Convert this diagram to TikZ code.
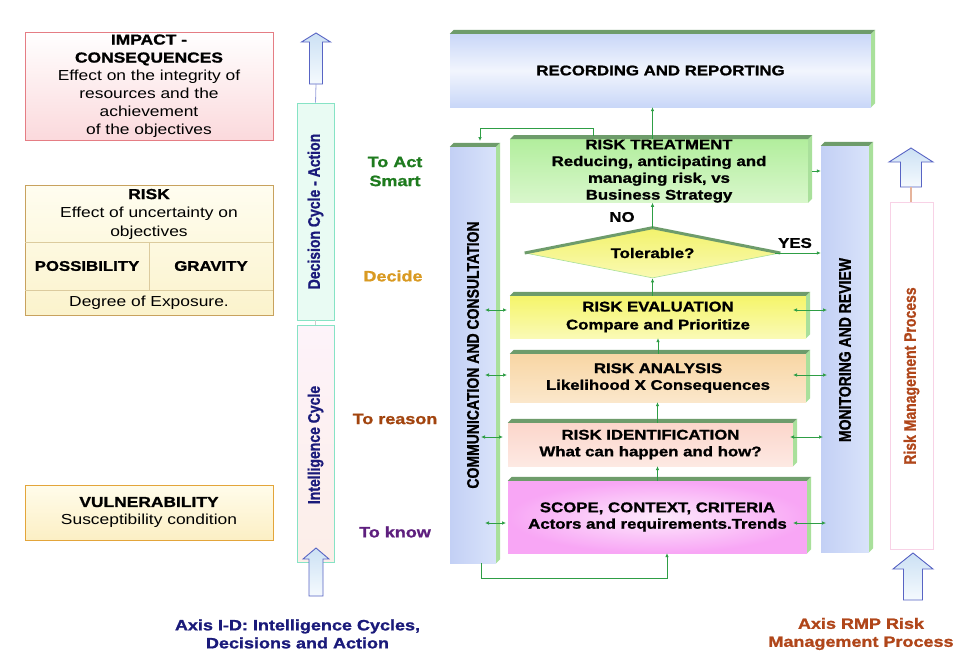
\documentclass[tikz,border=0pt]{standalone}
\usepackage{fontspec}
\setmainfont{Liberation Sans}[FakeStretch=1.2, BoldFeatures={FakeBold=1.2}]
\newfontfamily\plainsans{Liberation Sans}[BoldFeatures={FakeBold=1.2}]
\usetikzlibrary{arrows.meta,shapes.geometric}
\definecolor{impf}{HTML}{FBD9DC}
\definecolor{impb}{HTML}{E57D84}
\definecolor{riskT}{HTML}{FFFDF0}
\definecolor{riskB}{HTML}{FBF3CC}
\definecolor{riskb}{HTML}{C8A25E}
\definecolor{riskl}{HTML}{DCCB9E}
\definecolor{vulT}{HTML}{FFFCEB}
\definecolor{vulB}{HTML}{FCEFC4}
\definecolor{vulb}{HTML}{E3A53A}
\definecolor{decf}{HTML}{E9FBF3}
\definecolor{cycb}{HTML}{86E3C5}
\definecolor{intT}{HTML}{FDF3FA}
\definecolor{intB}{HTML}{FCEEE8}
\definecolor{arrT}{HTML}{CCE1F4}
\definecolor{arrB}{HTML}{F5FAFE}
\definecolor{arrb}{HTML}{5864C4}
\definecolor{recf}{HTML}{C9D7F8}
\definecolor{colL}{HTML}{C3D0F5}
\definecolor{colR}{HTML}{D9E3FA}
\definecolor{topface}{HTML}{6E9C6B}
\definecolor{sideface}{HTML}{A9E09B}
\definecolor{treatT}{HTML}{B2EE9D}
\definecolor{treatB}{HTML}{D9F7CC}
\definecolor{evalT}{HTML}{F5F56A}
\definecolor{evalB}{HTML}{FAFAB5}
\definecolor{anaT}{HTML}{F8D6A4}
\definecolor{anaB}{HTML}{FBE7CB}
\definecolor{idT}{HTML}{FCD6CB}
\definecolor{idB}{HTML}{FDE9E3}
\definecolor{scopeO}{HTML}{F8A6F5}
\definecolor{scopeI}{HTML}{FDEAFC}
\definecolor{diaT}{HTML}{F2F26C}
\definecolor{diaB}{HTML}{FAFAB3}
\definecolor{conng}{HTML}{2E9E45}
\definecolor{actg}{HTML}{1E7B1E}
\definecolor{decideo}{HTML}{D99A22}
\definecolor{reasonb}{HTML}{A2440E}
\definecolor{knowp}{HTML}{5E1F7E}
\definecolor{navy}{HTML}{1A1A7A}
\definecolor{rmpb}{HTML}{B0461A}
\definecolor{rmpedge}{HTML}{F8D2E6}
\definecolor{rmpline}{HTML}{E6B49C}
\newcommand\rottext[1]{\scalebox{0.833}[1]{\plainsans\fontsize{16.8}{16.8}\selectfont\bfseries #1}}
\newcommand\mkdepth[1]{%
  \fill[topface] (#1.north west) -- ++(4,-4) -- ([shift={(4,-4)}]#1.north east) -- (#1.north east) -- cycle;
  \fill[sideface] (#1.north east) -- ([shift={(4,-4)}]#1.north east) -- ([shift={(4,-4)}]#1.south east) -- (#1.south east) -- cycle;}
\newcommand\blockarrow[6]{%
  \draw[arrowst] (#1,#2) -- (#1+#5,#3) -- (#1+#6,#3) -- (#1+#6,#4) -- (#1-#6,#4) -- (#1-#6,#3) -- (#1-#5,#3) -- cycle;}
\tikzset{
  every node/.style={font=\fontsize{14.5}{17}\selectfont},
  leftbox/.style={rectangle, inner sep=0pt, align=center, minimum width=248, font=\fontsize{14.5}{18}\selectfont},
  flow/.style={rectangle, inner sep=0pt, align=center, font=\bfseries\fontsize{14}{16.8}\selectfont},
  cycbox/.style={rectangle, inner sep=0pt, draw=cycb, line width=0.8pt, minimum width=37},
  arrowst/.style={draw=arrb, line width=0.9pt, top color=arrT, bottom color=arrB, line join=miter},
  gc/.style={draw=conng, line width=0.7pt, -{Latex[length=4pt,width=3.5pt]}},
  gcc/.style={draw=conng, line width=0.7pt, {Latex[length=4pt,width=3.5pt]}-{Latex[length=4pt,width=3.5pt]}},
  lbl/.style={font=\bfseries\fontsize{15}{19}\selectfont, align=center},
}
\begin{document}
\begin{tikzpicture}[x=1pt,y=-1pt]
\useasboundingbox[fill=white] (0,0) rectangle (980,665);

% ---------- left boxes ----------
\node[leftbox, draw=impb, top color=white, bottom color=impf, minimum height=108] (impact) at (149,86)
  {\textbf{IMPACT -}\\\textbf{CONSEQUENCES}\\Effect on the integrity of\\resources and the\\achievement\\of the objectives};

\node[leftbox, draw=riskb, line width=0.8pt, top color=riskT, bottom color=riskB, minimum height=130] (risk) at (149,250) {};
\node[align=center, font=\fontsize{14.5}{18.5}\selectfont] (riskt) at (149,214) {\textbf{RISK}\\Effect of uncertainty on\\objectives};
\draw[riskl, line width=0.8pt] (25,242) -- (273,242);
\draw[riskl, line width=0.8pt] (25,290) -- (273,290);
\draw[riskl, line width=0.8pt] (149,242) -- (149,290);
\node[font=\bfseries\fontsize{14}{17}\selectfont] (poss) at (87,266) {POSSIBILITY};
\node[font=\bfseries\fontsize{14}{17}\selectfont] (grav) at (211,266) {GRAVITY};
\node (expo) at (149,303) {Degree of Exposure.};

\node[leftbox, draw=vulb, line width=0.8pt, top color=vulT, bottom color=vulB, minimum height=55] (vul) at (149,512.5)
  {\textbf{VULNERABILITY}\\Susceptibility condition};

% ---------- left axis ----------
\node[cycbox, fill=decf, minimum height=217] (dec) at (315.5,211.5) {};
\node[rotate=90, text=navy] (dect) at (dec) {\rottext{Decision Cycle - Action}};
\node[cycbox, top color=intT, bottom color=intB, minimum height=237] (int) at (315.5,443.5) {};
\node[rotate=90, text=navy] (intt) at (315.5,445) {\rottext{Intelligence Cycle}};
\blockarrow{316}{33}{42}{84}{14.5}{6.5}
\coordinate (topaxisend) at (316,84);
\draw[arrb!60, line width=0.8pt] (topaxisend) -- (dec.north);
\draw[black!20, line width=0.8pt] (dec.south) -- (int.north);
\blockarrow{316}{548}{559}{596}{13}{7}

\node[lbl, text=actg, font=\bfseries\fontsize{15}{19}\selectfont] (act) at (395,171.5) {To Act\\Smart};
\node[lbl, text=decideo] (decide) at (393,276) {Decide};
\node[lbl, text=reasonb] (reason) at (395,419) {To reason};
\node[lbl, text=knowp] (know) at (395,532) {To know};
\node[lbl, text=navy, font=\bfseries\fontsize{15}{18}\selectfont] (axl) at (297.5,634) {Axis I-D: Intelligence Cycles,\\Decisions and Action};

% ---------- right process ----------
\node[flow, top color=recf, bottom color=recf, middle color=recf!25!white, minimum width=421, minimum height=73] (rec) at (660.5,70.5) {RECORDING AND REPORTING};
\mkdepth{rec}

\node[flow, left color=colL, right color=colR, minimum width=46, minimum height=416] (comm) at (473,355) {};
\mkdepth{comm}
\node[rotate=90] (commt) at (comm) {\rottext{COMMUNICATION AND CONSULTATION}};

\node[flow, left color=colL, right color=colR, minimum width=48, minimum height=406] (mon) at (845,349) {};
\mkdepth{mon}
\node[rotate=90] (mont) at (845,350) {\rottext{MONITORING AND REVIEW}};

\node[flow, top color=treatT, bottom color=treatB, minimum width=298, minimum height=62] (treat) at (659,171)
  {RISK TREATMENT\\Reducing, anticipating and\\managing risk, vs\\Business Strategy};
\mkdepth{treat}

\node[diamond, aspect=5, inner sep=0pt, minimum width=255, minimum height=50, top color=diaT, bottom color=diaB, draw=sideface, line width=0.6pt, font=\bfseries\fontsize{14}{17}\selectfont] (dia) at (652.5,253) {Tolerable?};
\draw[topface, line width=3pt, line join=round] (dia.west) -- (dia.north) -- (dia.east);

\node[flow, top color=evalT, bottom color=evalB, minimum width=296, minimum height=42, font=\bfseries\fontsize{14}{18}\selectfont] (ev) at (658,317)
  {RISK EVALUATION\\Compare and Prioritize};
\mkdepth{ev}
\node[flow, top color=anaT, bottom color=anaB, minimum width=296, minimum height=48] (ana) at (658,378)
  {RISK ANALYSIS\\Likelihood X Consequences};
\mkdepth{ana}
\node[flow, top color=idT, bottom color=idB, minimum width=285, minimum height=43] (idn) at (650.5,444.5)
  {RISK IDENTIFICATION\\What can happen and how?};
\mkdepth{idn}
\node[flow, inner color=scopeI, outer color=scopeO, minimum width=299, minimum height=72, font=\bfseries\fontsize{14}{16.5}\selectfont] (sc) at (657.5,517)
  {SCOPE, CONTEXT, CRITERIA\\Actors and requirements.Trends};
\mkdepth{sc}

\node[font=\bfseries\fontsize{14}{17}\selectfont] (no) at (622,217) {NO};
\node[font=\bfseries\fontsize{14}{17}\selectfont] (yes) at (795,243) {YES};

% RMP axis
\node[rectangle, draw=rmpedge, fill=white, line width=0.8pt, minimum width=43, minimum height=347, inner sep=0pt] (rmp) at (911.5,375.5) {};
\node[rotate=90, text=rmpb] (rmpt) at (911.5,376) {\rottext{Risk Management Process}};
\blockarrow{911}{148}{162}{187}{22}{10.5}
\coordinate (rmpaxisend) at (911,187);
\draw[rmpline, line width=1.2pt] (rmpaxisend) -- (rmp.north -| rmpaxisend);
\blockarrow{913}{553}{569}{600}{20}{9.5}
\node[lbl, text=rmpb, font=\bfseries\fontsize{15}{18}\selectfont] (axr) at (861,634) {Axis RMP Risk\\Management Process};

% ---------- connectors ----------
\draw[gc] (dia.north |- treat.north) -- (dia.north |- rec.south);
\draw[gc] (593,136) -- (593,128) -- (480,128) -- (480,141);
\draw[gc] (dia.north) -- (dia.north |- treat.south);
\draw[gc] (dia.south |- ev.north) -- (dia.south);
\draw[gc] (ana.north) -- (ana.north |- ev.south);
\draw[gc] (sc.north |- idn.north) -- (sc.north |- ana.south);
\draw[gc] (sc.north) -- (sc.north |- idn.south);
\draw[gc] ([xshift=8pt]comm.south) -- ++(0,15) -| ([xshift=9.5pt]sc.south);
\draw[gc] ([xshift=4pt]treat.east) -- (mon.west |- treat.east);
\draw[gc] ([xshift=-5pt]dia.east) -- (mon.west |- dia.east);

\draw[gcc] (485,310) -- (507,310);
\draw[gcc] (485,375) -- (507,375);
\draw[gcc] (481,437) -- (503,437);
\draw[gcc] (485,523) -- (506,523);
\draw[gcc] (793,310) -- (827,310);
\draw[gcc] (793,375) -- (827,375);
\draw[gcc] (790,437) -- (823,437);
\draw[gcc] (793,523) -- (826,523);
\end{tikzpicture}
\end{document}
